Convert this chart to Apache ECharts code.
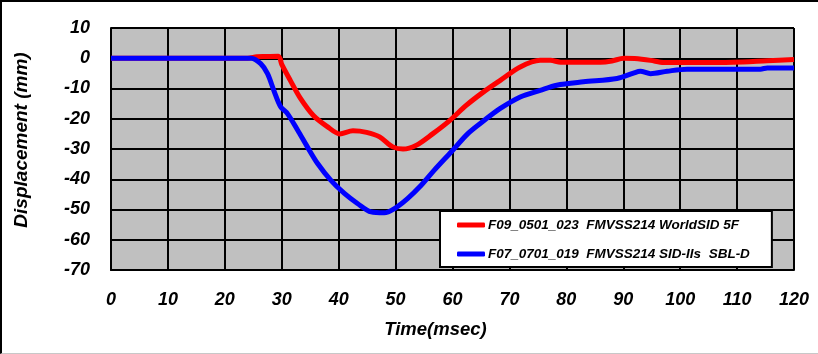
<!DOCTYPE html>
<html>
<head>
<meta charset="utf-8">
<script src="https://cdn.jsdelivr.net/npm/echarts@6/dist/echarts.min.js"></script>
<style>
  html, body { margin: 0; padding: 0; background: #fff; }
  .frame {
    width: 817px;
    height: 351px;
    border-top: 2px solid #000;
    border-left: 2px solid #000;
    border-bottom: 1px solid #c8c8c8;
    position: relative;
  }
  #chart { position: absolute; left: -2px; top: -2px; width: 818px; height: 354px; }
</style>
</head>
<body>
<div class="frame"><div id="chart"></div></div>
<script>
  // time (msec) and displacement (mm)
  const redTime = [0, 10, 20, 24, 25.6, 27, 29.4, 30, 31.5, 33.2, 35.6, 38, 40.2, 42.5, 44.9, 47.2, 49.5, 51.3, 53.6, 56.5, 59.5, 62.4, 65.4, 68.4, 71.9, 75.4, 77.2, 79, 86, 88, 90.1, 92, 94.8, 97.1, 101.2, 109.4, 115.3, 120];
  const redDisp = [0, 0, 0, 0, 0.5, 0.6, 0.7, -2, -7.3, -13, -19, -22.6, -25, -24, -24.5, -26, -29.3, -30, -28.8, -25, -20.6, -15.6, -11.2, -7.3, -2.9, -0.7, -0.7, -1.3, -1.3, -0.9, 0, -0.1, -0.7, -1.4, -1.4, -1.3, -0.8, -0.4];

  const blueTime = [0, 10, 20, 24.6, 26.3, 27.5, 28.6, 29.8, 31, 32.8, 34.5, 36.3, 38.6, 41, 43.3, 45.7, 48, 49.8, 52.1, 54.5, 56.8, 59.8, 62.7, 65.6, 68.4, 71.9, 75.4, 78.3, 83, 88.9, 91.8, 93, 94.8, 97.7, 101.2, 114.1, 115.3, 120];
  const blueDisp = [0, 0, 0, 0, -1.8, -5.1, -10.6, -16, -18.3, -23.8, -29.3, -34.8, -40.3, -44.7, -48, -50.8, -51.1, -49.7, -46.4, -42, -37, -30.9, -24.9, -20.5, -16.6, -12.8, -10.6, -8.9, -7.8, -6.7, -4.9, -4.3, -5.1, -4.3, -3.6, -3.6, -3.2, -3.2];

  const seriesNames = ['F09_0501_023  FMVSS214 WorldSID 5F', 'F07_0701_019  FMVSS214 SID-IIs  SBL-D'];

  function pairs(xs, ys) {
    return xs.map((x, i) => [x, ys[i]]);
  }

  const font = 'Liberation Sans, Arial, sans-serif';
  let myChart = echarts.init(document.getElementById('chart'));
  myChart.setOption({
    animation: false,
    grid: {
      left: 111,
      right: 24,
      top: 28,
      bottom: 84,
      outerBoundsMode: 'none',
      show: true,
      backgroundColor: '#c0c0c0',
      borderColor: '#808080',
      borderWidth: 1
    },
    legend: {
      orient: 'vertical',
      left: 440,
      top: 211,
      backgroundColor: '#fff',
      borderColor: '#000',
      borderWidth: 2,
      borderRadius: 0,
      padding: [7, 22, 6, 17],
      itemGap: 15,
      itemWidth: 28,
      itemHeight: 5,
      icon: 'roundRect',
      textStyle: {
        fontFamily: font,
        fontSize: 13.5,
        fontWeight: 'bold',
        fontStyle: 'italic',
        color: '#000',
        padding: [0, 0, 0, -2]
      },
      data: seriesNames
    },
    xAxis: {
      type: 'value',
      min: 0,
      max: 120,
      interval: 10,
      name: 'Time(msec)',
      nameLocation: 'middle',
      nameGap: 50,
      nameTextStyle: {
        fontFamily: font, fontSize: 18.5, fontWeight: 'bold', fontStyle: 'italic', color: '#000',
        padding: [0, 34, 0, 0]
      },
      axisLine: { show: true, onZero: false, lineStyle: { color: '#000', width: 2 } },
      axisTick: { show: false },
      splitLine: { show: true, lineStyle: { color: '#000', width: 2 } },
      axisLabel: {
        margin: 21,
        fontFamily: font, fontSize: 18, fontWeight: 'bold', fontStyle: 'italic', color: '#000'
      }
    },
    yAxis: {
      type: 'value',
      min: -70,
      max: 10,
      interval: 10,
      name: 'Displacement (mm)',
      nameLocation: 'middle',
      nameGap: 80,
      nameRotate: 90,
      nameTextStyle: {
        fontFamily: font, fontSize: 19, fontWeight: 'bold', fontStyle: 'italic', color: '#000',
        padding: [0, 0, 0, 18]
      },
      axisLine: { show: true, onZero: false, lineStyle: { color: '#000', width: 2 } },
      axisTick: { show: false },
      splitLine: { show: true, lineStyle: { color: '#000', width: 2 } },
      axisLabel: {
        margin: 21,
        fontFamily: font, fontSize: 18, fontWeight: 'bold', fontStyle: 'italic', color: '#000'
      }
    },
    series: [
      {
        name: seriesNames[0],
        type: 'line',
        showSymbol: false,
        smooth: 0.3,
        color: '#ff0000',
        lineStyle: { width: 5, color: '#ff0000' },
        z: 3,
        data: pairs(redTime, redDisp)
      },
      {
        name: seriesNames[1],
        type: 'line',
        showSymbol: false,
        smooth: 0.3,
        color: '#0000ff',
        lineStyle: { width: 5, color: '#0000ff' },
        z: 4,
        data: pairs(blueTime, blueDisp)
      }
    ]
  });
</script>
</body>
</html>
